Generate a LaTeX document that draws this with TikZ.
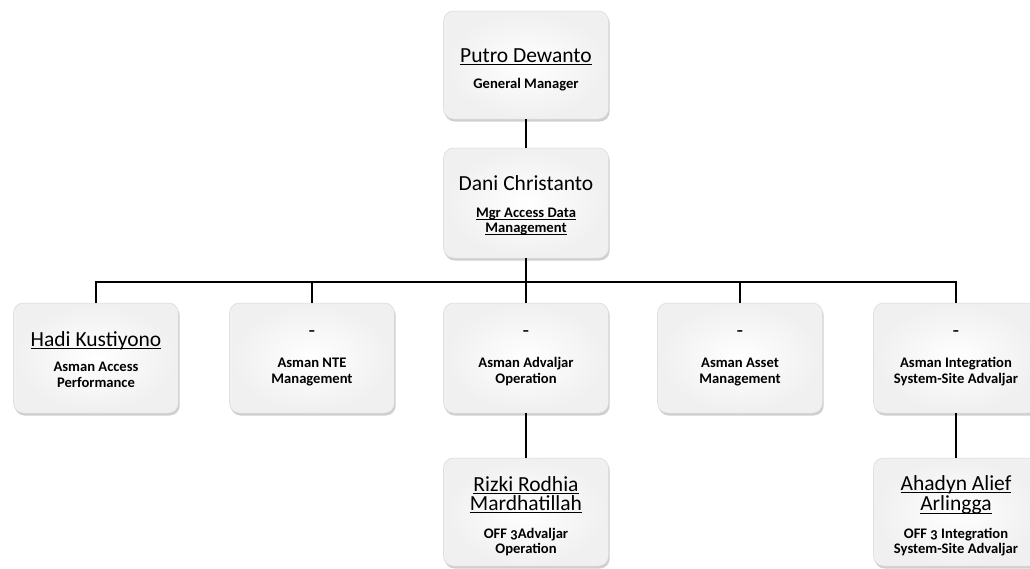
\documentclass[tikz,border=0pt]{standalone}
\usepackage{fontspec}
\setmainfont{Carlito}[Numbers=OldStyle]
\usetikzlibrary{shadows}
\newcommand{\nmf}{\fontsize{21.5}{21}\selectfont\mdseries}
\newcommand{\sbf}{\fontsize{14.6}{15.5}\selectfont\bfseries}
\newcommand{\ul}[1]{\setbox0\hbox{#1}\rlap{\rule[-2.6pt]{\wd0}{1pt}}\box0}
\newcommand{\tp}[1]{\rule{0pt}{#1pt}}
\tikzset{
  box/.style={rounded corners=10pt, draw=gray!30, line width=0.5pt,
    inner color=white, outer color=gray!12,
    minimum width=165pt, minimum height=108pt, align=center, font=\sbf,
    drop shadow={shadow xshift=1.2pt, shadow yshift=-2.5pt, opacity=0.5, fill=gray!75}},
  link/.style={line width=1.6pt, black}
}
\begin{document}
\begin{tikzpicture}[x=1pt,y=-1pt]
\useasboundingbox (0,0) rectangle (1030,568);
\node[box] (gm) at (526,65) {\tp{23}{\nmf\ul{Putro Dewanto}}\\[10pt]General Manager};
\node[box, minimum height=110pt] (dani) at (526,203) {\tp{20}{\nmf Dani Christanto}\\[11pt]\ul{Mgr Access Data}\\\ul{Management}};
\node[box, minimum height=110pt] (hadi) at (96,358) {\tp{18}{\nmf\ul{Hadi Kustiyono}}\\[10pt]Asman Access\\Performance};
\node[box, minimum height=110pt] (nte) at (312,358) {{\nmf -}\\[15pt]Asman NTE\\Management};
\node[box, minimum height=110pt] (adv) at (526,358) {{\nmf -}\\[15pt]Asman Advaljar\\Operation};
\node[box, minimum height=110pt] (asset) at (740,358) {{\nmf -}\\[15pt]Asman Asset\\Management};
\node[box, minimum height=110pt] (integ) at (956,358) {{\nmf -}\\[15pt]Asman Integration\\System-Site Advaljar};
\node[box, minimum height=108pt] (rizki) at (526,512) {\tp{23}{\nmf\ul{Rizki Rodhia}}\\[1pt]{\nmf\ul{Mardhatillah}}\\[12pt]OFF 3Advaljar\\Operation};
\node[box, minimum height=108pt] (ahad) at (956,512) {\tp{23}{\nmf\ul{Ahadyn Alief}}\\[1pt]{\nmf\ul{Arlingga}}\\[12pt]OFF 3 Integration\\System-Site Advaljar};
\coordinate (bus) at (526,282);
\draw[link] (gm.south) -- (dani.north);
\draw[link] (dani.south) -- (bus);
\foreach \n in {hadi,nte,adv,asset,integ} \draw[link] (bus) -| (\n.north);
\draw[link] (adv.south) -- (rizki.north);
\draw[link] (integ.south) -- (ahad.north);
\end{tikzpicture}
\end{document}
